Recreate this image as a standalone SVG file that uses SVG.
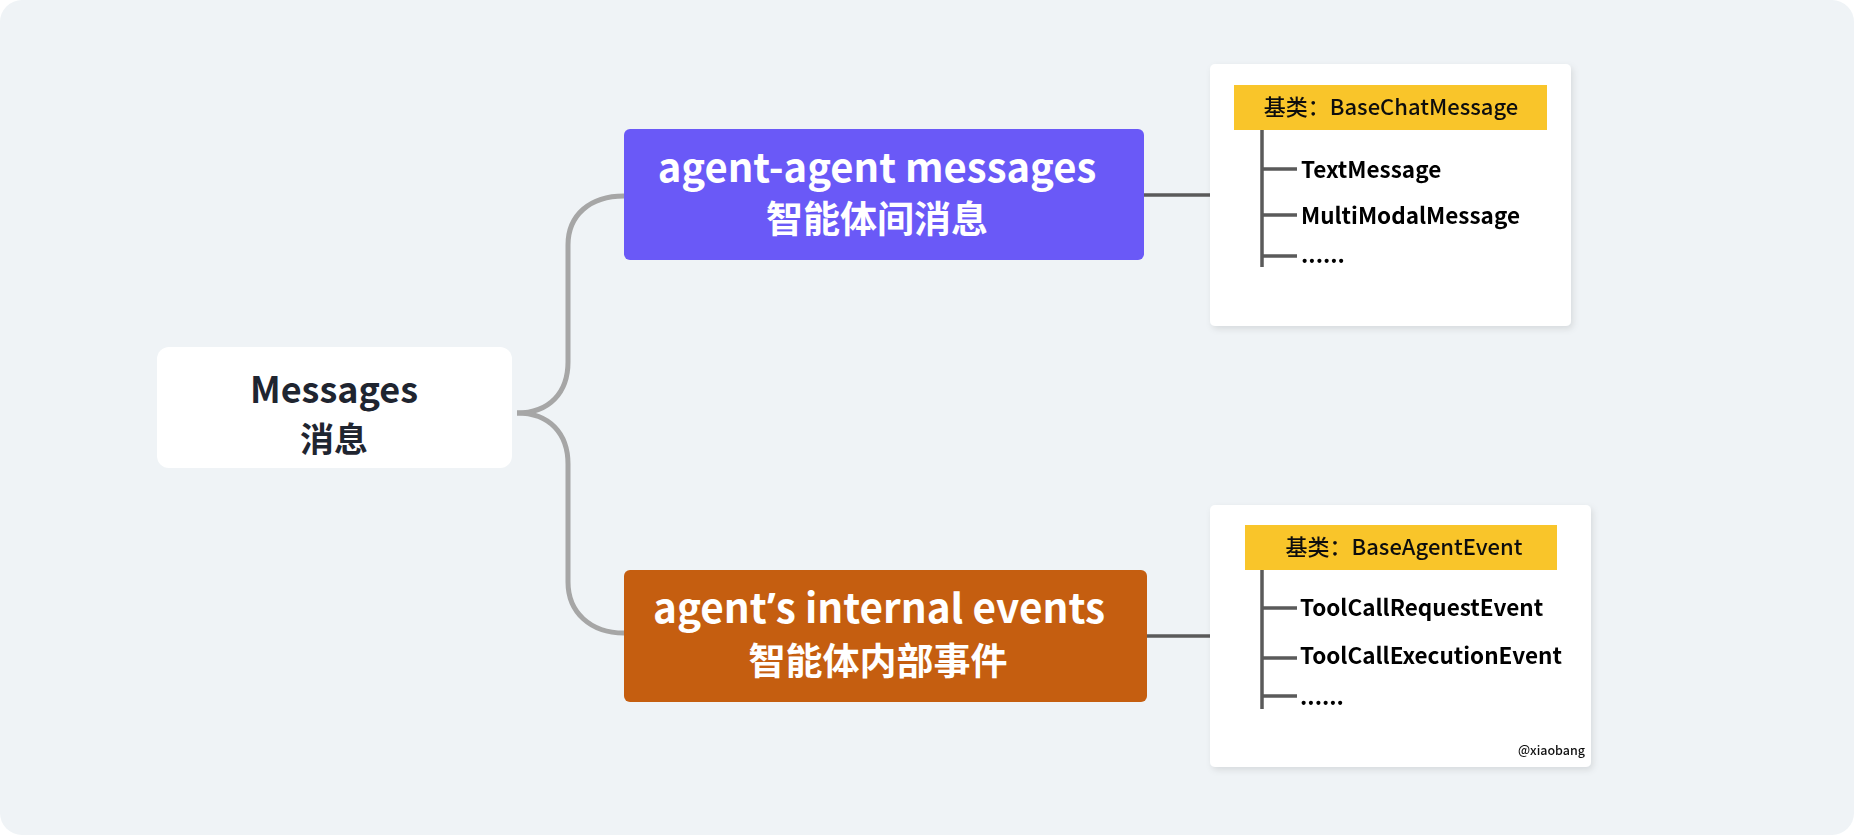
<svg xmlns="http://www.w3.org/2000/svg" width="1854" height="835" viewBox="0 0 1854 835">
<style>
.t{font-family:"Noto Sans CJK SC","Noto Sans",sans-serif;font-weight:700}
.w{fill:#ffffff}
.head{font-family:"Noto Sans CJK SC","Noto Sans",sans-serif;font-weight:500;font-size:22px;fill:#111}
.item{font-family:"Noto Sans CJK SC","Noto Sans",sans-serif;font-weight:700;font-size:22.5px;fill:#000}
.tree{stroke:#5a5a5a;stroke-width:3.5;fill:none}
.br{stroke:#a6a6a6;stroke-width:5;fill:none}
.lk{stroke:#5a5a5a;stroke-width:3.5;fill:none}
</style>
<defs>
<filter id="sh" x="-10%" y="-10%" width="120%" height="125%">
<feDropShadow dx="2" dy="3" stdDeviation="3" flood-color="#000" flood-opacity="0.10"/>
</filter>
</defs>
<rect x="0" y="0" width="1854" height="835" fill="#ffffff"/>
<rect x="0" y="0" width="1854" height="835" rx="22" fill="#eff3f6"/>
<g id="connectors">
<path class="br" d="M517,413 C550,413 568,392 568,362 V245 C568,215 590,196 624,196"/>
<path class="br" d="M517,413 C550,413 568,434 568,464 V582 C568,612 590,633 624,633"/>
<line class="lk" x1="1143" y1="195" x2="1211" y2="195"/>
<line class="lk" x1="1147" y1="636" x2="1211" y2="636"/>
</g>
<g id="messages">
<rect x="157" y="347" width="355" height="121" rx="12" fill="#ffffff"/>
<text class="t" x="334" y="403" font-size="36" fill="#1f2530" text-anchor="middle">Messages</text>
<text class="t" x="334" y="452" font-size="34" fill="#1f2530" text-anchor="middle">消息</text>
</g>
<g id="agent-agent">
<rect x="624" y="129" width="520" height="131" rx="6" fill="#6a59f7"/>
<text class="t w" x="877" y="182" font-size="40" text-anchor="middle">agent-agent messages</text>
<text class="t w" x="877" y="233" font-size="37" text-anchor="middle">智能体间消息</text>
</g>
<g id="internal-events">
<rect x="624" y="570" width="523" height="132" rx="6" fill="#c55e10"/>
<text class="t w" x="879" y="623" font-size="40.5" text-anchor="middle">agent<tspan font-family="Noto Sans, sans-serif">’</tspan>s internal events</text>
<text class="t w" x="878" y="675" font-size="37" text-anchor="middle">智能体内部事件</text>
</g>
<g id="card-chat" filter="url(#sh)">
<rect x="1210" y="64" width="361" height="262" rx="5" fill="#ffffff"/>
<rect x="1234" y="85" width="313" height="45" fill="#f9c52a"/>
<text class="head" x="1391" y="115" text-anchor="middle">基类：BaseChatMessage</text>
<path class="tree" d="M1262,130 V267 M1262,169 H1297 M1262,215 H1297 M1262,256 H1297"/>
<text class="item" x="1301" y="178">TextMessage</text>
<text class="item" x="1301" y="224">MultiModalMessage</text>
<text class="item" x="1301" y="263">......</text>
</g>
<g id="card-event" filter="url(#sh)">
<rect x="1210" y="505" width="381" height="262" rx="5" fill="#ffffff"/>
<rect x="1245" y="525" width="312" height="45" fill="#f9c52a"/>
<text class="head" x="1404" y="555" text-anchor="middle">基类：BaseAgentEvent</text>
<path class="tree" d="M1262,570 V709 M1262,608 H1297 M1262,658 H1297 M1262,696 H1297"/>
<text class="item" x="1300" y="616">ToolCallRequestEvent</text>
<text class="item" x="1300" y="664">ToolCallExecutionEvent</text>
<text class="item" x="1300" y="705">......</text>
<text x="1585" y="755" text-anchor="end" font-family="Noto Sans CJK SC, Noto Sans, sans-serif" font-weight="500" font-size="12.5" fill="#111">@xiaobang</text>
</g>
</svg>
